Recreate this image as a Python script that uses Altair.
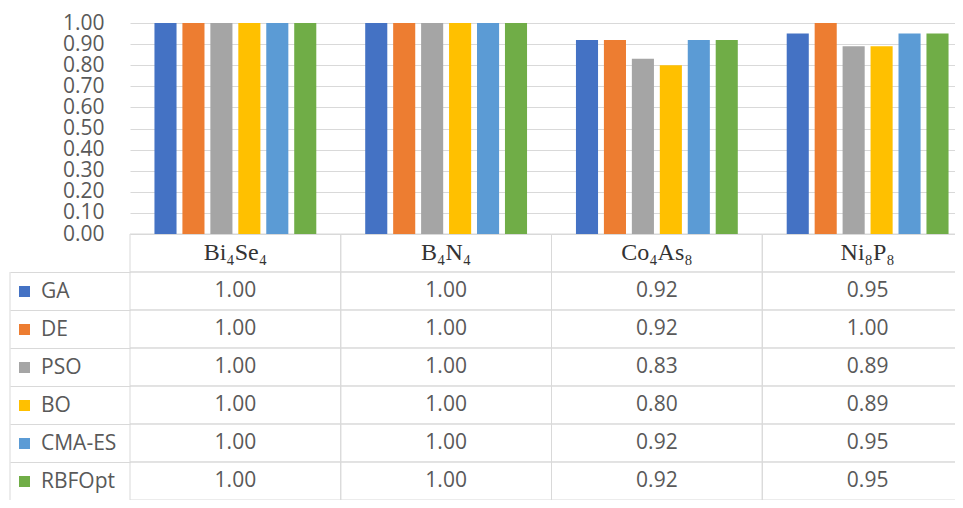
import altair as alt
import pandas as pd

categories = ["Bi₄Se₄", "B₄N₄", "Co₄As₈", "Ni₈P₈"]
algorithms = ["GA", "DE", "PSO", "BO", "CMA-ES", "RBFOpt"]
colors = ["#4472C4", "#ED7D31", "#A5A5A5", "#FFC000", "#5B9BD5", "#70AD47"]

ga = [1.00, 1.00, 0.92, 0.95]
de = [1.00, 1.00, 0.92, 1.00]
pso = [1.00, 1.00, 0.83, 0.89]
bo = [1.00, 1.00, 0.80, 0.89]
cma = [1.00, 1.00, 0.92, 0.95]
rbf = [1.00, 1.00, 0.92, 0.95]
series = [ga, de, pso, bo, cma, rbf]

y_ticks = [0.0, 0.1, 0.2, 0.3, 0.4, 0.5, 0.6, 0.7, 0.8, 0.9, 1.0]
header_key = "header"
rows = [header_key] + algorithms

GRID = "#D9D9D9"
TXT = "#595959"
FONT = "Open Sans"

bars = pd.DataFrame(
    [{"category": c, "algorithm": a, "value": v}
     for a, vals in zip(algorithms, series) for c, v in zip(categories, vals)]
)
headers = pd.DataFrame({"category": categories, "row": [header_key] * len(categories)})
cells = pd.DataFrame([{"category": c, "row": r} for r in rows for c in categories])
table = bars.rename(columns={"algorithm": "row"})

W, H = 825, 477
X_RANGE = 843  # the table continues past the right edge of the picture, as in the original
BAR_H = 211

x_scale = alt.Scale(domain=categories, range=[0, X_RANGE], paddingInner=0, paddingOuter=0)
row_scale = alt.Scale(domain=rows, range=[BAR_H, H], paddingInner=0, paddingOuter=0)

x_enc = alt.X("category:N", scale=x_scale, axis=None, title=None)

cell_layer = alt.Chart(cells).mark_rect(fillOpacity=0, stroke=GRID, strokeWidth=1).encode(
    x=x_enc,
    y=alt.Y(
        "row:N", scale=row_scale, title=None,
        axis=alt.Axis(
            orient="left", labels=False, domain=False, grid=False, ticks=True, tickSize=120,
            bandPosition=0,
            tickColor={"condition": {"test": "datum.value === 'header'", "value": "transparent"},
                       "value": GRID},
        ),
    ),
)

left_border = alt.Chart(pd.DataFrame({"a": [0]})).mark_rule(color=GRID, strokeWidth=1).encode(
    x=alt.value(-120), y=alt.value(BAR_H + (H - BAR_H) / 7), y2=alt.value(H)
)

bar_layer = alt.Chart(bars).mark_bar().encode(
    x=x_enc,
    xOffset=alt.XOffset("algorithm:N", scale=alt.Scale(domain=algorithms, paddingInner=0.21, paddingOuter=0.875)),
    y=alt.Y(
        "value:Q", scale=alt.Scale(domain=[0, 1], range=[BAR_H, 0]), title=None,
        axis=alt.Axis(orient="left", values=y_ticks, format=".2f", grid=True, gridColor=GRID,
                      domain=False, ticks=False, labelFontSize=21, labelFont=FONT,
                      labelColor=TXT, labelPadding=26),
    ),
    color=alt.Color(
        "algorithm:N", scale=alt.Scale(domain=algorithms, range=colors),
        legend=alt.Legend(orient="none", legendX=-116, legendY=258, title=None,
                          symbolType="square", symbolSize=121, symbolStrokeWidth=0,
                          symbolOpacity=1, labelFontSize=21, labelFont=FONT,
                          labelColor=TXT, labelOffset=6, rowPadding=16, padding=0),
    ),
)

value_layer = alt.Chart(table).mark_text(font=FONT, fontSize=21, color=TXT).encode(
    x=x_enc,
    y=alt.Y("row:N", scale=row_scale, axis=None),
    text=alt.Text("value:Q", format=".2f"),
)

header_layer = alt.Chart(headers).mark_text(font="Liberation Serif", fontSize=24, color="#333333").encode(
    x=x_enc,
    y=alt.Y("row:N", scale=row_scale, axis=None),
    text="category:N",
)

chart = alt.layer(cell_layer, left_border, bar_layer, value_layer, header_layer).resolve_scale(
    y="independent"
).resolve_axis(y="independent").properties(
    width=W, height=H,
    autosize=alt.AutoSizeParams(type="none"),
    padding={"left": 122, "top": 15, "right": 0, "bottom": 0},
).configure_view(stroke=None)

chart.save("out.html", embed_options={"renderer": "svg", "actions": False})
